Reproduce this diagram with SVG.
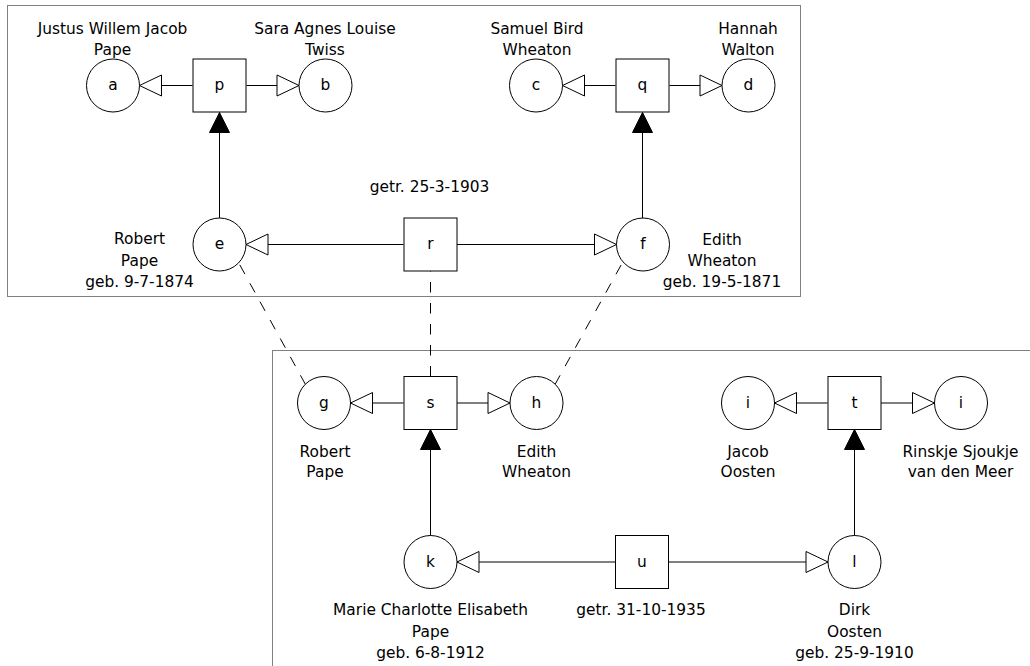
<svg xmlns="http://www.w3.org/2000/svg" width="1030" height="666" viewBox="0 0 1030 666">
<style>
.frame{fill:none;stroke:#808080;stroke-width:1}
.n{fill:#fff;stroke:#000;stroke-width:1}
.t{font-family:"DejaVu Sans",sans-serif;font-size:15.4px;fill:#000;text-anchor:middle}
.e{fill:none;stroke:#000;stroke-width:1}
.o{marker-end:url(#open)}
.f{marker-end:url(#fill)}
.d{fill:none;stroke:#000;stroke-width:1;stroke-dasharray:10.5,10.5}
</style>
<defs>
<marker id="open" markerUnits="userSpaceOnUse" viewBox="0 0 24 24" markerWidth="24" markerHeight="24" refX="23" refY="12" orient="auto">
<path d="M1,1.5 L23,12 L1,22.5 Z" fill="#fff" stroke="#000" stroke-width="1"/>
</marker>
<marker id="fill" markerUnits="userSpaceOnUse" viewBox="0 0 24 24" markerWidth="24" markerHeight="24" refX="21" refY="12" orient="auto">
<path d="M1,2 L21,12 L1,22 Z" fill="#000" stroke="#000" stroke-width="1"/>
</marker>
</defs>
<rect width="1030" height="666" fill="#fff"/>
<g id="frames">
<rect class="frame" x="7.5" y="5.5" width="793" height="291"/>
<rect class="frame" x="272.5" y="350.5" width="800" height="400"/>
</g>
<g id="connectors">
<line class="e o" x1="192.5" y1="85.5" x2="139.5" y2="85.5"/>
<line class="e o" x1="246.5" y1="85.5" x2="299" y2="85.5"/>
<line class="e o" x1="615.5" y1="85.5" x2="562.5" y2="85.5"/>
<line class="e o" x1="669.5" y1="85.5" x2="722" y2="85.5"/>
<line class="e f" x1="219.5" y1="218" x2="219.5" y2="112.5"/>
<line class="e f" x1="642.5" y1="218" x2="642.5" y2="112.5"/>
<line class="e o" x1="403.5" y1="244.5" x2="246" y2="244.5"/>
<line class="e o" x1="456.5" y1="244.5" x2="616.5" y2="244.5"/>
<line class="d" x1="305.5" y1="384.5" x2="238.5" y2="262.5"/>
<line class="d" x1="430.5" y1="376.5" x2="430.5" y2="271"/>
<line class="d" x1="555" y1="384.5" x2="622.5" y2="262.5"/>
<line class="e o" x1="403.5" y1="403" x2="350.5" y2="403"/>
<line class="e o" x1="457" y1="403" x2="510" y2="403"/>
<line class="e f" x1="430.5" y1="536" x2="430.5" y2="429.5"/>
<line class="e o" x1="827.5" y1="403" x2="774.5" y2="403"/>
<line class="e o" x1="881" y1="403" x2="934.5" y2="403"/>
<line class="e f" x1="854.5" y1="536" x2="854.5" y2="429.5"/>
<line class="e o" x1="615.5" y1="562" x2="457" y2="562"/>
<line class="e o" x1="668.5" y1="562" x2="828" y2="562"/>
</g>
<g id="node-a"><circle class="n" cx="113" cy="85.5" r="26.5"/><text class="t" x="113" y="90">a</text>
<text class="t" x="112.5" y="33.5">Justus Willem Jacob</text><text class="t" x="112.5" y="55">Pape</text></g>
<g id="node-p"><rect class="n" x="193" y="59" width="53" height="53"/><text class="t" x="219.5" y="90">p</text></g>
<g id="node-b"><circle class="n" cx="325.5" cy="85.5" r="26.5"/><text class="t" x="325.5" y="90">b</text>
<text class="t" x="325" y="33.5">Sara Agnes Louise</text><text class="t" x="325" y="55">Twiss</text></g>
<g id="node-c"><circle class="n" cx="536" cy="85.5" r="26.5"/><text class="t" x="536" y="90">c</text>
<text class="t" x="537" y="34">Samuel Bird</text><text class="t" x="537" y="55">Wheaton</text></g>
<g id="node-q"><rect class="n" x="616" y="59" width="53" height="53"/><text class="t" x="642.5" y="90">q</text></g>
<g id="node-d"><circle class="n" cx="748.5" cy="85.5" r="26.5"/><text class="t" x="748.5" y="90">d</text>
<text class="t" x="748" y="34">Hannah</text><text class="t" x="748" y="55">Walton</text></g>
<g id="node-e"><circle class="n" cx="219.5" cy="244.5" r="26.5"/><text class="t" x="219.5" y="249">e</text>
<text class="t" x="139.5" y="244">Robert</text><text class="t" x="139.5" y="265.5">Pape</text><text class="t" x="139.5" y="287">geb. 9-7-1874</text></g>
<g id="node-r"><rect class="n" x="404" y="218" width="53" height="53"/><text class="t" x="430.5" y="249">r</text>
<text class="t" x="429.5" y="191.5">getr. 25-3-1903</text></g>
<g id="node-f"><circle class="n" cx="643" cy="244.5" r="26.5"/><text class="t" x="643" y="249">f</text>
<text class="t" x="722" y="244.5">Edith</text><text class="t" x="722" y="265.5">Wheaton</text><text class="t" x="722" y="287">geb. 19-5-1871</text></g>
<g id="node-g"><circle class="n" cx="324" cy="403" r="26.5"/><text class="t" x="324" y="407.5">g</text>
<text class="t" x="325" y="456.5">Robert</text><text class="t" x="325" y="477">Pape</text></g>
<g id="node-s"><rect class="n" x="404" y="376.5" width="53" height="53"/><text class="t" x="430.5" y="407.5">s</text></g>
<g id="node-h"><circle class="n" cx="536.5" cy="403" r="26.5"/><text class="t" x="536.5" y="407.5">h</text>
<text class="t" x="536.5" y="456.5">Edith</text><text class="t" x="536.5" y="477">Wheaton</text></g>
<g id="node-i1"><circle class="n" cx="748" cy="403" r="26.5"/><text class="t" x="748" y="407.5">i</text>
<text class="t" x="748" y="456.5">Jacob</text><text class="t" x="748" y="477">Oosten</text></g>
<g id="node-t"><rect class="n" x="828" y="376.5" width="53" height="53"/><text class="t" x="854.5" y="407.5">t</text></g>
<g id="node-i2"><circle class="n" cx="961" cy="403" r="26.5"/><text class="t" x="961" y="407.5">i</text>
<text class="t" x="960.5" y="456.5">Rinskje Sjoukje</text><text class="t" x="960.5" y="477">van den Meer</text></g>
<g id="node-k"><circle class="n" cx="430.5" cy="562" r="26.5"/><text class="t" x="430.5" y="566.5">k</text>
<text class="t" x="430.5" y="615">Marie Charlotte Elisabeth</text><text class="t" x="430.5" y="636.5">Pape</text><text class="t" x="430.5" y="658">geb. 6-8-1912</text></g>
<g id="node-u"><rect class="n" x="615.5" y="535.5" width="53" height="53"/><text class="t" x="642" y="566.5">u</text>
<text class="t" x="641" y="615">getr. 31-10-1935</text></g>
<g id="node-l"><circle class="n" cx="854.5" cy="562" r="26.5"/><text class="t" x="854.5" y="566.5">l</text>
<text class="t" x="854.5" y="615">Dirk</text><text class="t" x="854.5" y="636.5">Oosten</text><text class="t" x="854.5" y="658">geb. 25-9-1910</text></g>
</svg>
